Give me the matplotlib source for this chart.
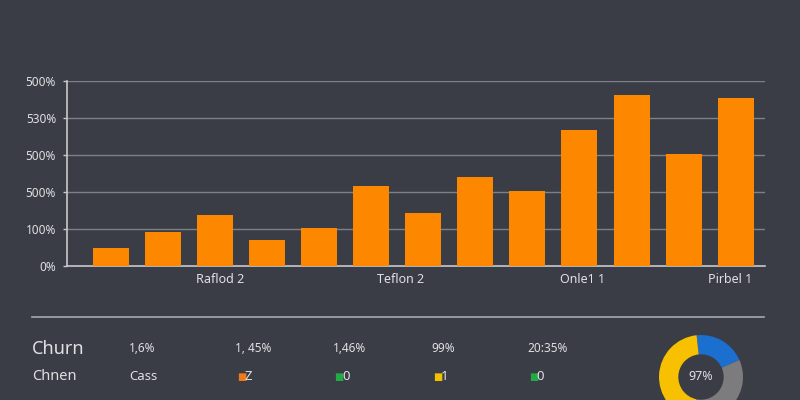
import numpy as np
import matplotlib.pyplot as plt
from matplotlib.lines import Line2D

plt.rcParams['font.family'] = ['Noto Sans', 'DejaVu Sans']

# bar chart data
values = [49, 92, 139, 71, 102, 217, 142, 240, 204, 368, 463, 304, 453]
ytick_vals = [0, 100, 200, 300, 400, 500]
ytick_labels = ['0%', '100%', '500%', '500%', '530%', '500%']
xlabel_pos = [2.1, 5.56, 9.05, 11.9]
xlabel_text = ['Raflod 2', 'Teflon 2', 'Onle1 1', 'Pirbel 1']

# summary table
row1_label = 'Churn'
row1_vals = ['1,6%', '1, 45%', '1,46%', '99%', '20:35%']
row2_label = 'Chnen'
row2_first = 'Cass'
row2_keys = ['Z', '0', '1', '0']
row2_colors = ['#f07a1a', '#22aa44', '#f5c000', '#22aa44']

# donut
donut_vals = [20, 35, 45]
donut_colors = ['#1a6fcf', '#7c7c7e', '#f7c000']
donut_label = '97%'

bg = '#3a3d45'
txt = '#e0e0e3'
grid = '#7d8087'

fig = plt.figure(figsize=(8, 4), dpi=100, facecolor=bg)
ax = fig.add_axes([0.084, 0.335, 0.8725, 0.4625], facecolor=bg)

x = np.arange(len(values))
ax.bar(x, values, width=0.69, color='#fd8800', zorder=3)
ax.set_xlim(-0.835, 12.566)
ax.set_ylim(0, 500)
ax.set_yticks(ytick_vals)
ax.set_yticklabels(ytick_labels, color=txt, fontsize=8.5)
ax.tick_params(axis='y', colors='#c8c8cc', length=3, width=1, labelcolor=txt, pad=5)
ax.set_xticks(xlabel_pos)
ax.set_xticklabels(xlabel_text, color=txt, fontsize=9)
ax.tick_params(axis='x', length=0, pad=5)
for v in ytick_vals[1:]:
    ax.axhline(v, color=grid, lw=1, zorder=1)
for s in ['top', 'right']:
    ax.spines[s].set_visible(False)
for s in ['left', 'bottom']:
    ax.spines[s].set_color('#c8c8cc')
    ax.spines[s].set_linewidth(1.2)

# separator line
fig.add_artist(Line2D([0.04, 0.955], [0.2075, 0.2075], color='#a8a9ad', lw=1.2))

col_x = [0.161, 0.294, 0.416, 0.539, 0.659]
fig.text(0.04, 0.128, row1_label, color=txt, fontsize=13, va='center')
for cx, t in zip(col_x, row1_vals):
    fig.text(cx, 0.128, t, color=txt, fontsize=8.5, va='center')
fig.text(0.04, 0.058, row2_label, color=txt, fontsize=10.5, va='center')
fig.text(col_x[0], 0.058, row2_first, color=txt, fontsize=9.5, va='center')
for cx, k, c in zip(col_x[1:], row2_keys, row2_colors):
    fig.text(cx + 0.002, 0.058, '\u25a0', color=c, fontsize=7, va='center',
             family=['DejaVu Sans'])
    fig.text(cx + 0.012, 0.058, k, color=txt, fontsize=9.5, va='center')

# donut
dax = fig.add_axes([0.82375, -0.0475, 0.105, 0.21])
dax.pie(donut_vals, colors=donut_colors, startangle=96, counterclock=False,
        radius=1, wedgeprops=dict(width=0.46, edgecolor='none'))
dax.text(0, 0, donut_label, color=txt, fontsize=9, ha='center', va='center')
dax.set_xlim(-1, 1)
dax.set_ylim(-1, 1)
dax.set_aspect('equal')
dax.axis('off')

fig.savefig('out.png', dpi=100, facecolor=bg)
